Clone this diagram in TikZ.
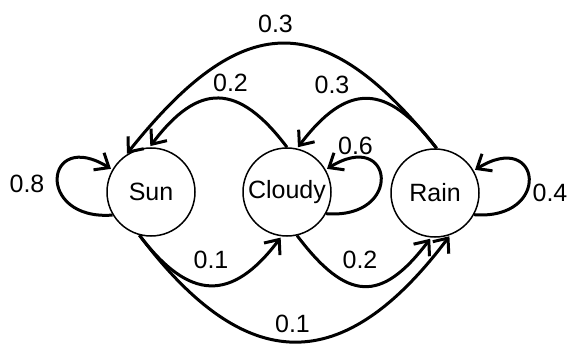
\documentclass[tikz,border=0pt]{standalone}
\usepackage{fontspec}
\setmainfont{Liberation Sans}
\usetikzlibrary{arrows.meta}
\begin{document}
\begin{tikzpicture}[x=1pt,y=-1pt,
  state/.style={circle,draw,line width=1.5pt,minimum size=88pt,inner sep=0pt,font=\fontsize{25}{29}\selectfont},
  edge/.style={line width=3pt,shorten >=1.5pt,-{Straight Barb[length=12pt,width=20pt,line width=3pt]}},
  lab/.style={font=\fontsize{25}{29}\selectfont,inner sep=0pt}]
\useasboundingbox (0,0) rectangle (569,344);
\node[state] (sun) at (151,192) {Sun};
\node[state] (cloudy) at (287,192) {Cloudy};
\node[state] (rain) at (435,193) {Rain};
% self loops
\draw[edge] (sun.211) .. controls +(-78,6) and +(-68,-42) .. (sun.150);
\draw[edge] (cloudy.-29) .. controls +(78,6) and +(68,-42) .. (cloudy.30);
\draw[edge] (rain.-29) .. controls +(78,6) and +(68,-42) .. (rain.30);
% top arcs
\draw[edge] (rain.88) .. controls +(-115,-144) and +(115,-144) .. (sun.124);
\draw[edge] (cloudy.90) .. controls +(-49,-65) and +(49,-65) .. (sun.92);
\draw[edge] (rain.88) .. controls +(-50,-66) and +(50,-66) .. (cloudy.77);
% bottom arcs
\draw[edge] (sun.255) .. controls +(50,66) and +(-50,66) .. (cloudy.263);
\draw[edge] (cloudy.283) .. controls +(50,66) and +(-50,66) .. (rain.265);
\draw[edge] (sun.255) .. controls +(107,142) and +(-107,142) .. (rain.290);
% labels
\node[lab] (l08) at (27,184) {0.8};
\node[lab] (l06) at (355.5,145.5) {0.6};
\node[lab] (l04) at (550,192.5) {0.4};
\node[lab] (l03a) at (275.5,23.5) {0.3};
\node[lab] (l02a) at (230.5,83) {0.2};
\node[lab] (l03b) at (332,85) {0.3};
\node[lab] (l01a) at (211,260) {0.1};
\node[lab] (l02b) at (360,260) {0.2};
\node[lab] (l01b) at (292.5,323.5) {0.1};
\end{tikzpicture}
\end{document}
